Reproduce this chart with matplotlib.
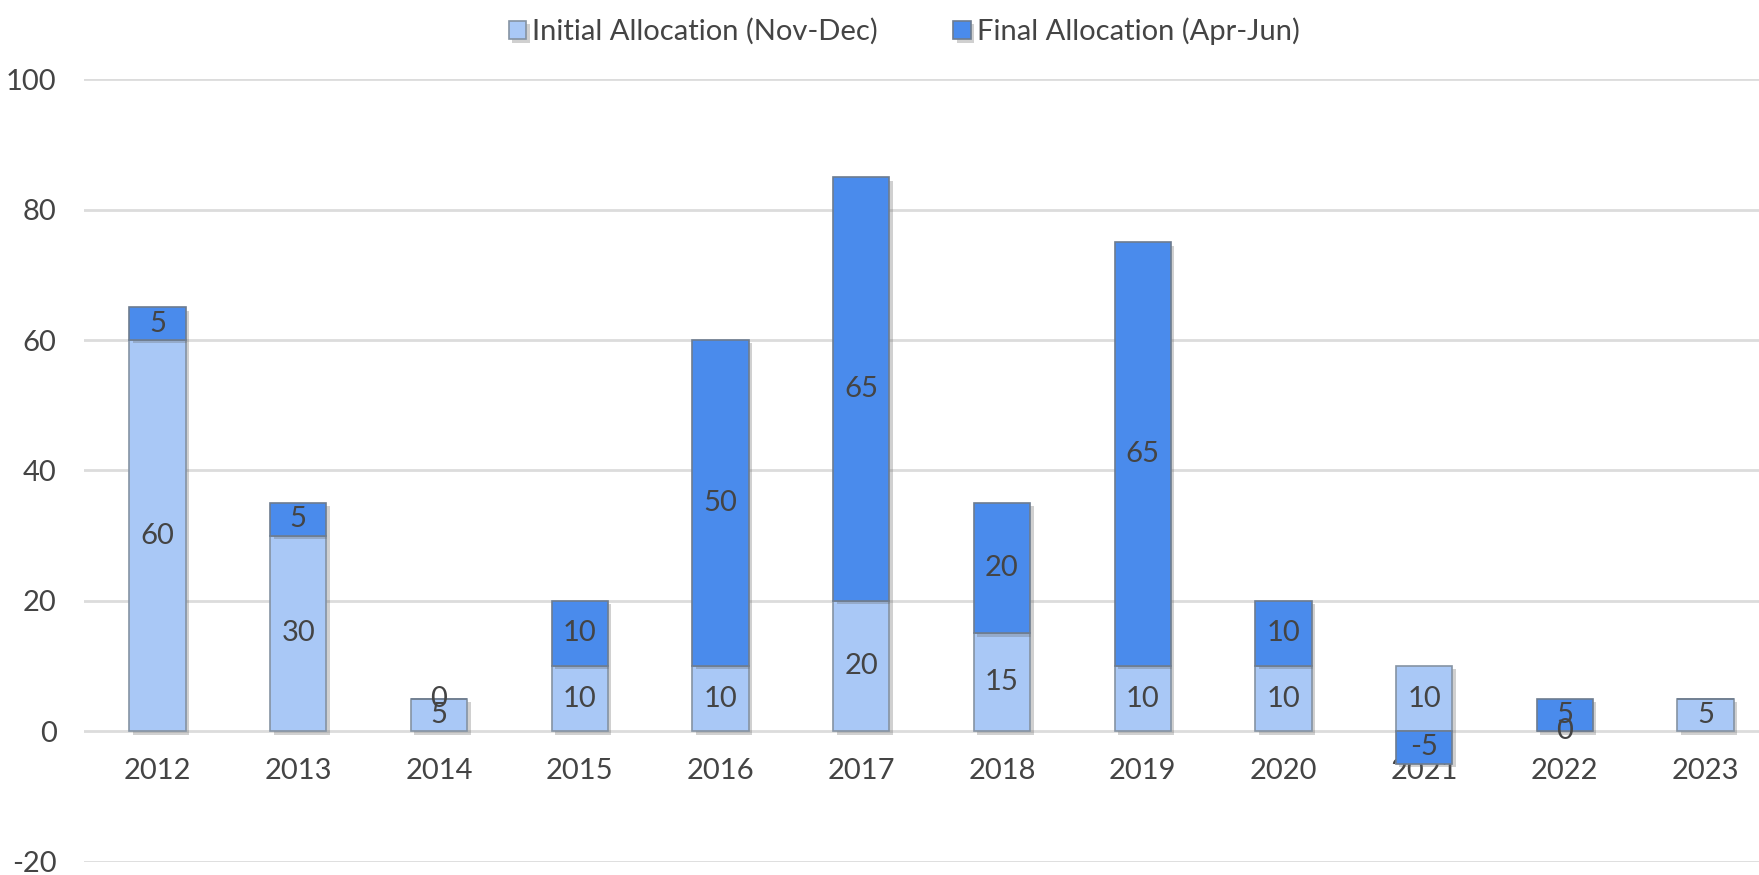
import matplotlib.pyplot as plt
import matplotlib.patheffects as pe
import numpy as np

plt.rcParams['font.family'] = ['Lato', 'DejaVu Sans']
plt.rcParams['axes.unicode_minus'] = False

years = ['2012', '2013', '2014', '2015', '2016', '2017', '2018', '2019', '2020', '2021', '2022', '2023']
initial = [60, 30, 5, 10, 10, 20, 15, 10, 10, 10, 0, 5]
final = [5, 5, 0, 10, 50, 65, 20, 65, 10, -5, 5, None]

light = '#a9c8f6'
dark = '#4a8bec'
txt = '#444444'

fig = plt.figure(figsize=(17.59, 8.75), dpi=100)
ax = fig.add_axes([0.048, 0.0154, 0.952, 0.894])

x = np.arange(len(years))
w = 0.4
shadow = [pe.SimplePatchShadow(offset=(2.5, -2.5), shadow_rgbFace='#666666', alpha=0.3), pe.Normal()]

# stack positives on top of the initial bar, negatives hang down from zero
fin_vals = [0 if v is None else v for v in final]
fin_bottom = [i if f >= 0 else 0 for i, f in zip(initial, fin_vals)]

b1 = ax.bar(x, initial, w, color=light, edgecolor='#8593a3', linewidth=1.2, zorder=3,
            label='Initial Allocation (Nov-Dec)')
b2 = ax.bar(x, fin_vals, w, bottom=fin_bottom, color=dark, edgecolor='#6d7c8f', linewidth=1.2, zorder=3,
            label='Final Allocation (Apr-Jun)')
for p in list(b1) + list(b2):
    p.set_path_effects(shadow)

for i in range(len(years)):
    ax.text(x[i], initial[i] / 2, str(initial[i]), ha='center', va='center', fontsize=21, color=txt, zorder=5)
    if final[i] is not None:
        ax.text(x[i], fin_bottom[i] + final[i] / 2, str(final[i]), ha='center', va='center',
                fontsize=21, color=txt, zorder=5)

ax.set_ylim(-20, 100)
ax.set_xlim(-0.52, 11.38)
ax.set_yticks(range(-20, 101, 20))
ax.yaxis.grid(True, color='#dcdcdc', linewidth=2)
ax.set_axisbelow(True)
for s in ax.spines.values():
    s.set_visible(False)
ax.spines['bottom'].set_position(('data', 0))
ax.set_xticks(x)
ax.set_xticklabels(years)
ax.tick_params(axis='x', length=0, pad=19, labelsize=21, labelcolor=txt)
ax.tick_params(axis='y', length=0, pad=20, labelsize=21, labelcolor=txt)

fig.legend(handles=[b1, b2], loc='upper center', bbox_to_anchor=(0.514, 1.01), ncol=2, frameon=False,
           fontsize=21, handlelength=0.6, handleheight=0.6, handletextpad=0.2, columnspacing=2.6,
           labelcolor=txt)

fig.savefig('out.png', dpi=100)
